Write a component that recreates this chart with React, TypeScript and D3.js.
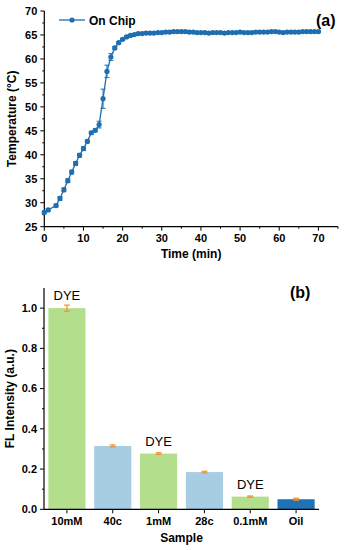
import * as d3 from "d3";

// --- panel (a): temperature vs time ---
const timeMin = [
  0, 1, 3, 4, 5, 6, 7, 8, 9, 10, 11, 12, 13, 14, 15, 16, 17, 18, 19, 20, 21, 22, 23, 24, 25, 26, 27, 28, 29,
  30, 31, 32, 33, 34, 35, 36, 37, 38, 39, 40, 41, 42, 43, 44, 45, 46, 47, 48, 49, 50, 51, 52, 53, 54, 55,
  56, 57, 58, 59, 60, 61, 62, 63, 64, 65, 66, 67, 68, 69, 70,
];
const temperature = [
  28.0, 28.5, 29.4, 30.9, 32.7, 34.6, 36.4, 38.2, 39.9, 41.3, 42.8, 44.6, 45.1, 46.3, 51.7, 57.4, 60.4,
  62.3, 63.4, 64.1, 64.6, 64.9, 65.1, 65.3, 65.3, 65.4, 65.4, 65.4, 65.5, 65.5, 65.6, 65.6, 65.7, 65.7,
  65.7, 65.7, 65.6, 65.6, 65.5, 65.5, 65.5, 65.4, 65.5, 65.5, 65.5, 65.4, 65.5, 65.5, 65.5, 65.6, 65.5,
  65.5, 65.5, 65.6, 65.6, 65.6, 65.6, 65.7, 65.7, 65.6, 65.5, 65.6, 65.6, 65.6, 65.6, 65.7, 65.7, 65.7,
  65.7, 65.7,
];
const tempError = [
  0.3, 0.3, 0.3, 0.4, 0.4, 0.4, 0.4, 0.4, 0.4, 0.4, 0.3, 0.3, 0.3, 0.7, 2.0, 1.3, 0.7, 0.3, 0.2, 0.2, 0.2,
  0.2, 0.2, 0.2, 0.2, 0.2, 0.2, 0.2, 0.2, 0.2, 0.2, 0.2, 0.2, 0.2, 0.2, 0.2, 0.2, 0.2, 0.2, 0.2, 0.2, 0.2,
  0.2, 0.2, 0.2, 0.2, 0.2, 0.2, 0.2, 0.2, 0.2, 0.2, 0.2, 0.2, 0.2, 0.2, 0.2, 0.2, 0.2, 0.2, 0.2, 0.2, 0.2,
  0.2, 0.2, 0.2, 0.2, 0.2, 0.2, 0.2,
];
const tempTicks = [25, 30, 35, 40, 45, 50, 55, 60, 65, 70];
const timeTicks = [0, 10, 20, 30, 40, 50, 60, 70];

// --- panel (b): fluorescence per sample ---
const samples = ["10mM", "40c", "1mM", "28c", "0.1mM", "Oil"];
const intensity = [1.0, 0.315, 0.277, 0.185, 0.063, 0.05];
const intensityError = [0.015, 0.005, 0.004, 0.004, 0.003, 0.005];
const sampleTag = ["DYE", "", "DYE", "", "DYE", ""];
const sampleKind = ["dye", "cell", "dye", "cell", "dye", "oil"];
const flTicks = [0, 0.2, 0.4, 0.6, 0.8, 1.0];

const FONT = "'Liberation Sans', Arial, sans-serif";
const LINE = "#1f6eb0";
const ERR = "#f0902a";
const KIND_COLOR: Record<string, string> = {
  dye: "#b3df8d",
  cell: "#a7cde3",
  oil: "#1f72b4",
};

const A = { left: 44.3, right: 338, top: 11, bottom: 226.7 };
const B = { left: 44, right: 319, top: 288, bottom: 509.3 };

function TopChart() {
  const x = d3.scaleLinear().domain([0, 75]).range([A.left, A.right]);
  const y = d3.scaleLinear().domain([25, 70]).range([A.bottom, A.top]);
  const line = d3
    .line<number>()
    .x((_, i) => x(timeMin[i]))
    .y((d) => y(d));
  const minorX = d3.range(0, 76, 5).filter((v) => v % 10 !== 0);
  const minorY = d3.range(27.5, 70, 5);

  return (
    <g>
      {/* axes */}
      <line x1={A.left} x2={A.left} y1={A.top} y2={A.bottom} stroke="#000" strokeWidth={1.2} />
      <line x1={A.left} x2={A.right} y1={A.bottom} y2={A.bottom} stroke="#000" strokeWidth={1.2} />
      {tempTicks.map((t) => (
        <g key={t}>
          <line x1={A.left - 4} x2={A.left} y1={y(t)} y2={y(t)} stroke="#000" />
          <text
            x={A.left - 7}
            y={y(t)}
            dy="0.35em"
            textAnchor="end"
            fontSize={11}
            fontWeight="bold"
            fontFamily={FONT}
          >
            {t}
          </text>
        </g>
      ))}
      {minorY.map((t) => (
        <line key={t} x1={A.left - 2} x2={A.left} y1={y(t)} y2={y(t)} stroke="#000" />
      ))}
      {timeTicks.map((t) => (
        <g key={t}>
          <line x1={x(t)} x2={x(t)} y1={A.bottom} y2={A.bottom + 4} stroke="#000" />
          <text
            x={x(t)}
            y={A.bottom + 15}
            textAnchor="middle"
            fontSize={11}
            fontWeight="bold"
            fontFamily={FONT}
          >
            {t}
          </text>
        </g>
      ))}
      {minorX.map((t) => (
        <line key={t} x1={x(t)} x2={x(t)} y1={A.bottom} y2={A.bottom + 2} stroke="#000" />
      ))}
      <text
        x={(A.left + A.right) / 2}
        y={258}
        textAnchor="middle"
        fontSize={12}
        fontWeight="bold"
        fontFamily={FONT}
      >
        Time (min)
      </text>
      <text
        transform={`translate(16,${(A.top + A.bottom) / 2}) rotate(-90)`}
        textAnchor="middle"
        fontSize={12}
        fontWeight="bold"
        fontFamily={FONT}
      >
        Temperature (°C)
      </text>

      {/* series */}
      <path d={line(temperature) ?? ""} fill="none" stroke={LINE} strokeWidth={1.3} />
      {temperature.map((v, i) => {
        const cx = x(timeMin[i]);
        const e = tempError[i];
        return (
          <g key={i}>
            <line x1={cx} x2={cx} y1={y(v + e)} y2={y(v - e)} stroke={LINE} strokeWidth={1} />
            <line x1={cx - 2.5} x2={cx + 2.5} y1={y(v + e)} y2={y(v + e)} stroke={LINE} strokeWidth={1} />
            <line x1={cx - 2.5} x2={cx + 2.5} y1={y(v - e)} y2={y(v - e)} stroke={LINE} strokeWidth={1} />
            <circle cx={cx} cy={y(v)} r={2.6} fill={LINE} />
          </g>
        );
      })}

      {/* legend */}
      <line x1={59} x2={85} y1={20} y2={20} stroke={LINE} strokeWidth={1.3} />
      <circle cx={72} cy={20} r={2.6} fill={LINE} />
      <text x={89} y={24.5} fontSize={12} fontWeight="bold" fontFamily={FONT}>
        On Chip
      </text>
      <text x={316} y={26} fontSize={16} fontWeight="bold" fontFamily={FONT}>
        (a)
      </text>
    </g>
  );
}

function BottomChart() {
  const x = d3.scaleBand<string>().domain(samples).range([B.left, B.right]).paddingInner(0.19).paddingOuter(0.095);
  const y = d3.scaleLinear().domain([0, 1.1]).range([B.bottom, B.top]);
  const minorY = d3.range(0.1, 1.1, 0.2);

  return (
    <g>
      {samples.map((s, i) => {
        const x0 = x(s) ?? 0;
        const cx = x0 + x.bandwidth() / 2;
        const v = intensity[i];
        const e = intensityError[i];
        return (
          <g key={s}>
            <rect
              x={x0}
              y={y(v)}
              width={x.bandwidth()}
              height={B.bottom - y(v)}
              fill={KIND_COLOR[sampleKind[i]]}
            />
            <line x1={cx} x2={cx} y1={y(v + e)} y2={y(v - e)} stroke={ERR} strokeWidth={1.2} />
            <line x1={cx - 3} x2={cx + 3} y1={y(v + e)} y2={y(v + e)} stroke={ERR} strokeWidth={1.2} />
            <line x1={cx - 3} x2={cx + 3} y1={y(v - e)} y2={y(v - e)} stroke={ERR} strokeWidth={1.2} />
            {sampleTag[i] && (
              <text x={cx} y={y(v) - 8} textAnchor="middle" fontSize={13} fontFamily={FONT}>
                {sampleTag[i]}
              </text>
            )}
            <line x1={cx} x2={cx} y1={B.bottom} y2={B.bottom + 4} stroke="#000" />
            <text
              x={cx}
              y={B.bottom + 16}
              textAnchor="middle"
              fontSize={11}
              fontWeight="bold"
              fontFamily={FONT}
            >
              {s}
            </text>
          </g>
        );
      })}
      <line x1={B.left} x2={B.left} y1={B.top} y2={B.bottom} stroke="#000" strokeWidth={1.2} />
      <line x1={B.left} x2={B.right} y1={B.bottom} y2={B.bottom} stroke="#000" strokeWidth={1.2} />
      {flTicks.map((t) => (
        <g key={t}>
          <line x1={B.left - 4} x2={B.left} y1={y(t)} y2={y(t)} stroke="#000" />
          <text
            x={B.left - 7}
            y={y(t)}
            dy="0.35em"
            textAnchor="end"
            fontSize={11}
            fontWeight="bold"
            fontFamily={FONT}
          >
            {t.toFixed(1)}
          </text>
        </g>
      ))}
      {minorY.map((t) => (
        <line key={t} x1={B.left - 2} x2={B.left} y1={y(t)} y2={y(t)} stroke="#000" />
      ))}
      <text
        x={(B.left + B.right) / 2}
        y={542}
        textAnchor="middle"
        fontSize={12}
        fontWeight="bold"
        fontFamily={FONT}
      >
        Sample
      </text>
      <text
        transform={`translate(14,${(B.top + B.bottom) / 2}) rotate(-90)`}
        textAnchor="middle"
        fontSize={12}
        fontWeight="bold"
        fontFamily={FONT}
      >
        FL Intensity (a.u.)
      </text>
      <text x={290} y={298} fontSize={16} fontWeight="bold" fontFamily={FONT}>
        (b)
      </text>
    </g>
  );
}

export default function App() {
  return (
    <svg
      width={345}
      height={550}
      style={{ position: "absolute", left: 0, top: 0, background: "#fff" }}
    >
      <TopChart />
      <BottomChart />
    </svg>
  );
}
